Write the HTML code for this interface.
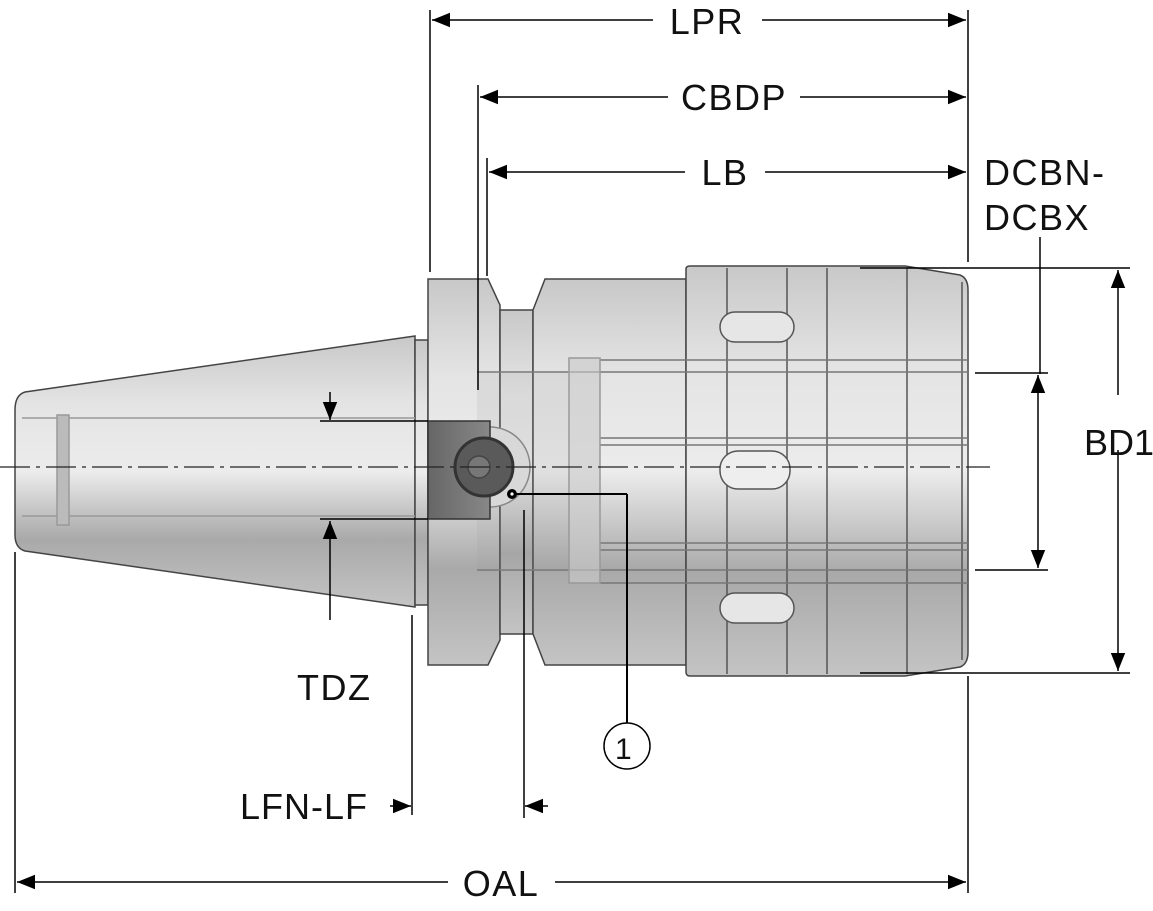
<!DOCTYPE html>
<html><head><meta charset="utf-8"><style>
html,body{margin:0;padding:0;background:#fff;}
svg{display:block;}
text{font-family:"Liberation Sans",sans-serif;font-size:36px;fill:#111;letter-spacing:1.5px;}
</style></head><body>
<svg width="1153" height="911" viewBox="0 0 1153 911" xmlns="http://www.w3.org/2000/svg">
<defs>
<linearGradient id="g" x1="0" y1="0" x2="0" y2="1">
<stop offset="0" stop-color="#c8c8c8"/><stop offset="0.25" stop-color="#e4e4e4"/><stop offset="0.5" stop-color="#ececec"/><stop offset="0.75" stop-color="#a9a9a9"/><stop offset="1" stop-color="#c4c4c4"/>
</linearGradient>
<linearGradient id="d" x1="0" y1="0" x2="1" y2="0">
<stop offset="0" stop-color="#666"/><stop offset="1" stop-color="#888"/>
</linearGradient>
<marker id="b" viewBox="0 0 10 10" refX="10" refY="5" markerWidth="18" markerHeight="18" markerUnits="userSpaceOnUse" orient="auto-start-reverse"><path d="M0,1L10,5L0,9z" fill="#000"/></marker>
</defs>
<g stroke="#444" stroke-width="1.5">
<path d="M415,336 L25,392 Q15,395 15,410 L15,535 Q15,548 25,551 L415,607 Z" fill="url(#g)"/>
<rect x="415" y="340" width="13" height="265" fill="url(#g)"/>
<line x1="22" y1="418" x2="415" y2="418" stroke="#999"/><line x1="22" y1="516" x2="415" y2="516" stroke="#999"/>
<rect x="57" y="415" width="12" height="110" fill="#bbb" stroke="#999"/>
<path d="M428,279 L488,279 L500,305 L500,640 L488,665 L428,665 Z" fill="url(#g)"/>
<path d="M500,310 L533,310 L533,634 L500,634 Z" fill="url(#g)"/>
<path d="M533,310 L545,279 L686,279 L686,665 L545,665 L533,634 Z" fill="url(#g)"/>
<path d="M686,269 Q686,266 690,266 L905,266 L960,275 Q968,278 968,290 L968,652 Q968,664 960,667 L905,676 L690,676 Q686,676 686,672 Z" fill="url(#g)"/>
<g fill="none" stroke="#555">
<line x1="727" y1="268" x2="727" y2="674"/><line x1="787" y1="268" x2="787" y2="674"/><line x1="827" y1="268" x2="827" y2="674"/><line x1="907" y1="268" x2="907" y2="674"/><line x1="962" y1="282" x2="962" y2="660"/>
</g>
<g stroke="#777" fill="none">
<line x1="477" y1="372" x2="968" y2="372"/><line x1="477" y1="570" x2="968" y2="570"/>
<line x1="600" y1="360" x2="968" y2="360"/><line x1="600" y1="583" x2="968" y2="583"/>
<line x1="600" y1="438" x2="968" y2="438"/><line x1="600" y1="445" x2="968" y2="445"/>
<line x1="600" y1="543" x2="968" y2="543"/><line x1="600" y1="550" x2="968" y2="550"/>
</g>
<rect x="569" y="358" width="31" height="225" fill="#c9c9c9" fill-opacity="0.6" stroke="#999"/>
<rect x="477" y="372" width="92" height="198" fill="#999" fill-opacity="0.15" stroke="none"/>
<rect x="720" y="312" width="74" height="30" rx="15" fill="#e6e6e6" stroke="#555"/>
<rect x="720" y="451" width="70" height="38" rx="18" fill="#eee" stroke="#555"/>
<rect x="720" y="593" width="74" height="30" rx="15" fill="#e6e6e6" stroke="#555"/>
<path d="M490,427 A40,40 0 0 1 490,507" fill="#d8d8d8" stroke="#888"/>
<rect x="428" y="421" width="62" height="98" fill="url(#d)" stroke="#333"/>
<circle cx="484" cy="467" r="29" fill="#5a5a5a" stroke="#333" stroke-width="3"/>
<circle cx="479" cy="467" r="11" fill="#777" stroke="#444"/>
</g>
<line x1="0" y1="467" x2="990" y2="467" stroke="#222" stroke-width="1.3" stroke-dasharray="30,6,4,6"/>
<g stroke="#000" stroke-width="1.5" fill="none">
<line x1="430" y1="10" x2="430" y2="272"/><line x1="968" y1="10" x2="968" y2="262"/>
<line x1="478" y1="85" x2="478" y2="390"/><line x1="487" y1="158" x2="487" y2="276"/>
<line x1="432" y1="20" x2="653" y2="20" marker-start="url(#b)"/><line x1="762" y1="20" x2="966" y2="20" marker-end="url(#b)"/>
<line x1="480" y1="97" x2="668" y2="97" marker-start="url(#b)"/><line x1="800" y1="97" x2="966" y2="97" marker-end="url(#b)"/>
<line x1="489" y1="172" x2="685" y2="172" marker-start="url(#b)"/><line x1="765" y1="172" x2="966" y2="172" marker-end="url(#b)"/>
<line x1="860" y1="268" x2="1130" y2="268"/><line x1="860" y1="673" x2="1130" y2="673"/>
<line x1="1118" y1="270" x2="1118" y2="395" marker-start="url(#b)"/><line x1="1118" y1="450" x2="1118" y2="671" marker-end="url(#b)"/>
<line x1="1040" y1="237" x2="1040" y2="374"/>
<line x1="975" y1="373" x2="1048" y2="373"/><line x1="975" y1="570" x2="1048" y2="570"/>
<line x1="1038" y1="375" x2="1038" y2="568" marker-start="url(#b)" marker-end="url(#b)"/>
<line x1="320" y1="421" x2="428" y2="421"/><line x1="320" y1="519" x2="428" y2="519"/>
<line x1="330" y1="392" x2="330" y2="420" marker-end="url(#b)"/>
<line x1="330" y1="620" x2="330" y2="521" marker-end="url(#b)"/>
<line x1="512" y1="494" x2="627" y2="494" stroke-width="2"/><line x1="627" y1="494" x2="627" y2="723" stroke-width="2"/>
<circle cx="627" cy="746" r="23"/>
<line x1="412" y1="615" x2="412" y2="815"/><line x1="524" y1="510" x2="524" y2="818"/>
<line x1="390" y1="806" x2="411" y2="806" marker-end="url(#b)"/><line x1="548" y1="806" x2="525" y2="806" marker-end="url(#b)"/>
<line x1="15" y1="552" x2="15" y2="893"/><line x1="968" y1="676" x2="968" y2="893"/>
<line x1="17" y1="882" x2="448" y2="882" marker-start="url(#b)"/><line x1="555" y1="882" x2="966" y2="882" marker-end="url(#b)"/>
</g>
<circle cx="512" cy="494" r="5" fill="#000"/>
<circle cx="512" cy="494" r="1.6" fill="#fff"/>
<text x="707" y="34" text-anchor="middle">LPR</text>
<text x="734" y="110" text-anchor="middle">CBDP</text>
<text x="725" y="185" text-anchor="middle">LB</text>
<text x="984" y="185">DCBN-</text>
<text x="984" y="230">DCBX</text>
<text x="1084" y="455" style="letter-spacing:0">BD1</text>
<text x="297" y="700">TDZ</text>
<text x="615" y="759" style="font-size:30px;letter-spacing:0">1</text>
<text x="240" y="819" style="letter-spacing:1px">LFN-LF</text>
<text x="501" y="896" text-anchor="middle">OAL</text>
</svg>
</body></html>
